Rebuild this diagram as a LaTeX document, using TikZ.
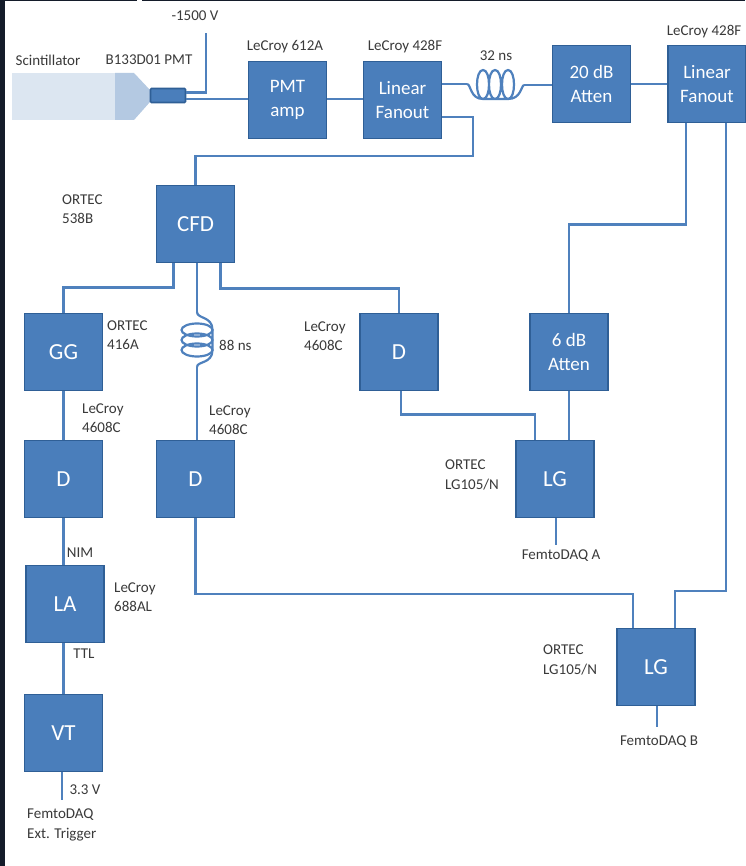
\documentclass[tikz,border=0pt]{standalone}
\usepackage{fontspec}
\setmainfont{Carlito}
\definecolor{wire}{HTML}{4F81BD}
\definecolor{boxfill}{HTML}{4A7EBB}
\definecolor{boxline}{HTML}{2F5F96}
\definecolor{frame}{HTML}{141C2A}
\definecolor{lab}{HTML}{3A3A3A}
\definecolor{scint}{HTML}{DCE6F1}
\definecolor{pmtbody}{HTML}{B4C9E2}
\tikzset{
  x=1pt,y=-1pt,
  blockbox/.style={draw=boxline,line width=1.6pt,fill=boxfill,text=white,
    minimum width=78pt,minimum height=77pt,inner sep=0pt,align=center,
    font=\fontsize{19}{24.5}\selectfont},
  bigbox/.style={blockbox,font=\fontsize{23}{26}\selectfont},
  wirepath/.style={draw=wire,line width=2.6pt,line join=miter},
  coilpath/.style={draw=wire,line width=2.2pt},
  lbl/.style={text=lab,inner sep=0pt,font=\fontsize{15}{19.5}\selectfont,align=center},
  lbll/.style={lbl,align=left,anchor=west},
}
\begin{document}
\begin{tikzpicture}
\useasboundingbox (0,0) rectangle (745,866);
\fill[white] (0,0) rectangle (745,866);
\fill[frame] (0,0) rectangle (5,866);
\fill[frame] (0,0) rectangle (137,1.2);
\fill[frame] (142,0) rectangle (745,1.2);
% scintillator and PMT
\fill[scint] (11.5,73) rectangle (115,120);
\fill[pmtbody] (115,73) -- (134,73) -- (150,90) -- (150,102) -- (134,120) -- (115,120) -- cycle;
% blocks
\node[blockbox] (amp) at (287.5,100) {PMT\\amp};
\node[blockbox] (fan1) at (402.5,100) {Linear\\Fanout};
\node[blockbox] (att20) at (591.5,84) {20 dB\\Atten};
\node[blockbox] (fan2) at (707,84) {Linear\\Fanout};
\node[bigbox] (cfd) at (195.5,224) {CFD};
\node[bigbox] (gg) at (63.5,352) {GG};
\node[bigbox] (d1) at (63.5,479) {D};
\node[bigbox] (d2) at (195.5,479) {D};
\node[bigbox] (d3) at (399,352) {D};
\node[blockbox] (att6) at (569,352) {6 dB\\Atten};
\node[bigbox] (lga) at (555,479) {LG};
\node[bigbox] (lgb) at (656,667) {LG};
\node[bigbox] (la) at (65,604) {LA};
\node[bigbox] (vt) at (63.5,733) {VT};
\node[draw=boxline,line width=1.6pt,fill=boxfill,minimum width=35pt,minimum height=14pt,inner sep=0pt,rounded corners=1pt] (tube) at (168,95.5) {};
% free ends
\coordinate (hv) at (206,33);
\coordinate (coilA) at (467,84);
\coordinate (coilB) at (524,85);
\coordinate (coilC) at (197,312);
\coordinate (coilD) at (197,367);
\coordinate (outa) at (556,545);
\coordinate (outb) at (657,727);
\coordinate (outv) at (62,800);
\coordinate (rowamp) at (0,99);
\coordinate (rowfan) at (0,84);
\coordinate (rowfb) at (0,117);
\coordinate (rowcfd) at (0,156);
\coordinate (bendA) at (473,117);
\coordinate (bendB) at (473,156);
\coordinate (rowlg) at (0,591);
\coordinate (colr) at (726,0);
\coordinate (collgb) at (675,0);
\coordinate (rowd2) at (0,594);
% wires
\path[wirepath] ([yshift=3]tube.east) -| (hv);
\path[wirepath] ([yshift=-3.5]tube.east) -- (amp.west |- tube.east |- rowamp);
\path[wirepath] (amp.east |- rowamp) -- (fan1.west |- rowamp);
\path[wirepath] (fan1.east |- rowfan) -- (coilA);
\path[wirepath] (coilB) -- (att20.west |- coilB);
\path[wirepath] (att20.east) -- (fan2.west);
\path[wirepath] (fan1.east |- rowfb) -- (bendA) -- (bendB) -- (cfd.north |- bendB) -- (cfd.north);
\path[wirepath] ([xshift=-21]fan2.south) -- ++(0,101) -| (att6.north);
\path[wirepath] (colr |- fan2.south) -- (colr |- rowlg) -- (collgb |- rowlg) -- (collgb |- lgb.north);
\path[wirepath] ([xshift=-22]cfd.south) -- ++(0,24) -| (gg.north);
\path[wirepath] (coilC |- cfd.south) -- (coilC);
\path[wirepath] (coilD) -- (coilD |- d2.north);
\path[wirepath] ([xshift=25]cfd.south) -- ++(0,25) -| (d3.north);
\path[wirepath] (gg.south) -- (d1.north);
\path[wirepath] (d1.south) -- (d1.south |- la.north);
\path[wirepath] (vt.north |- la.south) -- (vt.north);
\path[wirepath] (outv |- vt.south) -- (outv);
\path[wirepath] ([xshift=2]d3.south) -- ++(0,23) -| ([xshift=-20]lga.north);
\path[wirepath] (att6.south) -- (att6.south |- lga.north);
\path[wirepath] (outa |- lga.south) -- (outa);
\path[wirepath] (d2.south) -- (d2.south |- rowd2) -| ([xshift=-23]lgb.north);
\path[wirepath] (outb |- lgb.south) -- (outb);
% coils
\path[coilpath] (coilA) .. controls (471,84) and (470,99) .. (483,99)
  .. controls (491,99) and (491,70) .. (483,70) .. controls (475,70) and (475,99) .. (483,99)
  (483,99) -- (495,99)
  .. controls (503,99) and (503,70) .. (495,70) .. controls (487,70) and (487,99) .. (495,99)
  (495,99) -- (508,99)
  .. controls (516,99) and (516,70) .. (508,70) .. controls (500,70) and (500,99) .. (508,99)
  .. controls (521,99) and (521,86) .. (coilB);
\path[coilpath] (197,330) ellipse [x radius=15.5,y radius=6.5]
  (197,340) ellipse [x radius=15.5,y radius=6.5]
  (197,350) ellipse [x radius=15.5,y radius=6.5];
\path[coilpath] (coilC) .. controls (197,319) and (212.5,316) .. (212.5,330)
  -- (212.5,350) .. controls (212.5,364) and (197,361) .. (coilD);
% labels
\node[lbl] (tScint) at (48,60) {Scintillator};
\node[lbl] (tPmt) at (149,60) {B133D01 PMT};
\node[lbl] (tHv) at (195,16) {-1500 V};
\node[lbl] (tAmp) at (285,47) {LeCroy 612A};
\node[lbl] (tFan1) at (405,47) {LeCroy 428F};
\node[lbl] (t32) at (496,56) {32 ns};
\node[lbl] (tFan2) at (704,32) {LeCroy 428F};
\node[lbll] (tCfd) at (62,209) {ORTEC\\538B};
\node[lbll] (tGg) at (107,335) {ORTEC\\416A};
\node[lbll] (tD3) at (304,336) {LeCroy\\4608C};
\node[lbll] (t88) at (219,345) {88 ns};
\node[lbll] (tD1) at (82,418) {LeCroy\\4608C};
\node[lbll] (tD2) at (209,420) {LeCroy\\4608C};
\node[lbll] (tLga) at (445,475) {ORTEC\\LG105/N};
\node[lbl] (tOa) at (561,556) {FemtoDAQ A};
\node[lbl] (tNim) at (80,553) {NIM};
\node[lbll] (tLa) at (114,597) {LeCroy\\688AL};
\node[lbl] (tTtl) at (84,654) {TTL};
\node[lbl] (t33) at (85,790) {3.3 V};
\node[lbll] (tOv) at (27,825) {FemtoDAQ\\Ext. Trigger};
\node[lbll] (tLgb) at (543,660) {ORTEC\\LG105/N};
\node[lbl] (tOb) at (659,742) {FemtoDAQ B};
\end{tikzpicture}
\end{document}
